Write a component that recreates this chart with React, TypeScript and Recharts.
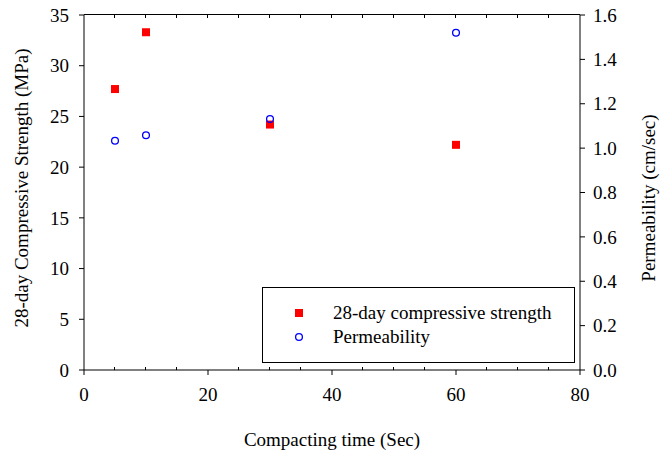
import React from 'react';
import {
  ScatterChart,
  Scatter,
  XAxis,
  YAxis,
  Legend,
} from 'recharts';

// values
const compactingTime = [5, 10, 30, 60];
const strength = [27.7, 33.3, 24.2, 22.2];
const permeability = [1.033, 1.058, 1.131, 1.52];

const xDomain = [0, 80];
const xTicks = [0, 20, 40, 60, 80];
const xMinorBottom = [5, 10, 15, 25, 30, 35, 45, 50, 55, 65, 70, 75];
const xMinorTop = [5, 10, 15, 20, 25, 30, 35, 40, 45, 50, 55, 60, 65, 70, 75];
const strengthTicks = [0, 5, 10, 15, 20, 25, 30, 35];
const permTicks = [0, 0.2, 0.4, 0.6, 0.8, 1.0, 1.2, 1.4, 1.6];

const strengthData = compactingTime.map((x, i) => ({ x, y: strength[i] }));
const permData = compactingTime.map((x, i) => ({ x, y: permeability[i] }));

// chart geometry
const W = 660;
const H = 451;
const TOP = 15;
const LEFT_W = 84;
const RIGHT_W = 80;
const XAXIS_H = 81;
const plotLeft = LEFT_W;
const plotRight = W - RIGHT_W;
const plotTop = TOP;
const plotBottom = H - XAXIS_H;
const xPix = (v: number) =>
  plotLeft + ((v - xDomain[0]) / (xDomain[1] - xDomain[0])) * (plotRight - plotLeft);

const FONT = "'Liberation Serif', 'Times New Roman', serif";
const tickStyle = { fill: '#000', fontSize: 19, fontFamily: FONT };

const RedSquare = (props: any) => (
  <rect x={props.cx - 4} y={props.cy - 4} width={8} height={8} fill="#ff0000" />
);

const BlueCircle = (props: any) => (
  <circle cx={props.cx} cy={props.cy} r={3.4} fill="none" stroke="#0000ff" strokeWidth={1.3} />
);

// top frame line and the small inward ticks, drawn as plain boxes over the chart
function Frame() {
  return (
    <>
      <div
        style={{
          position: 'absolute',
          left: plotLeft,
          top: plotTop - 1,
          width: plotRight - plotLeft,
          height: 0,
          borderTop: '1px solid #000',
          zIndex: 10,
          pointerEvents: 'none',
        }}
      />
      {xMinorTop.map((v) => (
        <div
          key={'t' + v}
          style={{
            position: 'absolute',
            left: Math.round(xPix(v)) - 1,
            top: plotTop - 1,
            width: 0,
            height: 4,
            borderLeft: '1px solid #000',
            zIndex: 10,
            pointerEvents: 'none',
          }}
        />
      ))}
      {xMinorBottom.map((v) => (
        <div
          key={'b' + v}
          style={{
            position: 'absolute',
            left: Math.round(xPix(v)) - 1,
            top: plotBottom - 3,
            width: 0,
            height: 3,
            borderLeft: '1px solid #000',
            zIndex: 10,
            pointerEvents: 'none',
          }}
        />
      ))}
    </>
  );
}

function LegendBox() {
  return (
    <div
      style={{
        boxSizing: 'border-box',
        width: 313,
        height: 76,
        border: '1px solid #000',
        background: '#fff',
        fontFamily: FONT,
        fontSize: 19,
        color: '#000',
        paddingTop: 13,
      }}
    >
      <div style={{ display: 'flex', alignItems: 'center', height: 24 }}>
        <svg width={70} height={24}>
          <rect x={32} y={8} width={8} height={8} fill="#ff0000" />
        </svg>
        <span>28-day compressive strength</span>
      </div>
      <div style={{ display: 'flex', alignItems: 'center', height: 24 }}>
        <svg width={70} height={24}>
          <circle cx={36} cy={12} r={3.4} fill="none" stroke="#0000ff" strokeWidth={1.3} />
        </svg>
        <span>Permeability</span>
      </div>
    </div>
  );
}

export default function App() {
  return (
    <div style={{ position: 'absolute', left: 0, top: 0, width: W, height: H, background: '#fff' }}>
      <ScatterChart
        width={W}
        height={H}
        margin={{ top: TOP, right: 0, bottom: 0, left: 0 }}
        style={{ fontFamily: FONT }}
      >
        <XAxis
          xAxisId="main"
          dataKey="x"
          type="number"
          domain={xDomain}
          allowDataOverflow
          ticks={xTicks}
          height={XAXIS_H}
          tickSize={5}
          tickMargin={13}
          tick={tickStyle}
          stroke="#000"
          label={{
            content: () => (
              <text x={332} y={446} textAnchor="middle" fontSize={19} fontFamily={FONT} fill="#000">
                Compacting time (Sec)
              </text>
            ),
          }}
        />
        <YAxis
          yAxisId="left"
          dataKey="y"
          type="number"
          domain={[0, 35]}
          allowDataOverflow
          ticks={strengthTicks}
          width={LEFT_W}
          tickSize={5}
          tickMargin={10}
          tick={tickStyle}
          stroke="#000"
          label={{
            content: () => (
              <text
                x={28}
                y={188}
                transform="rotate(-90, 28, 188)"
                textAnchor="middle"
                fontSize={19}
                fontFamily={FONT}
                fill="#000"
              >
                28-day Compressive Strength (MPa)
              </text>
            ),
          }}
        />
        <YAxis
          yAxisId="right"
          dataKey="y"
          orientation="right"
          type="number"
          domain={[0, 1.6]}
          allowDataOverflow
          ticks={permTicks}
          width={RIGHT_W}
          tickSize={5}
          tickMargin={8}
          tick={tickStyle}
          tickFormatter={(v: number) => v.toFixed(1)}
          stroke="#000"
          label={{
            content: () => (
              <text
                x={655}
                y={198}
                transform="rotate(-90, 655, 198)"
                textAnchor="middle"
                fontSize={19}
                fontFamily={FONT}
                fill="#000"
              >
                Permeability (cm/sec)
              </text>
            ),
          }}
        />
        <Legend
          layout="vertical"
          align="center"
          verticalAlign="middle"
          wrapperStyle={{ left: 262, top: 287, width: 313, height: 76 }}
          content={() => <LegendBox />}
        />
        <Scatter
          name="28-day compressive strength"
          data={strengthData}
          xAxisId="main"
          yAxisId="left"
          shape={RedSquare}
          isAnimationActive={false}
        />
        <Scatter
          name="Permeability"
          data={permData}
          xAxisId="main"
          yAxisId="right"
          shape={BlueCircle}
          isAnimationActive={false}
        />
      </ScatterChart>
      <Frame />
    </div>
  );
}
